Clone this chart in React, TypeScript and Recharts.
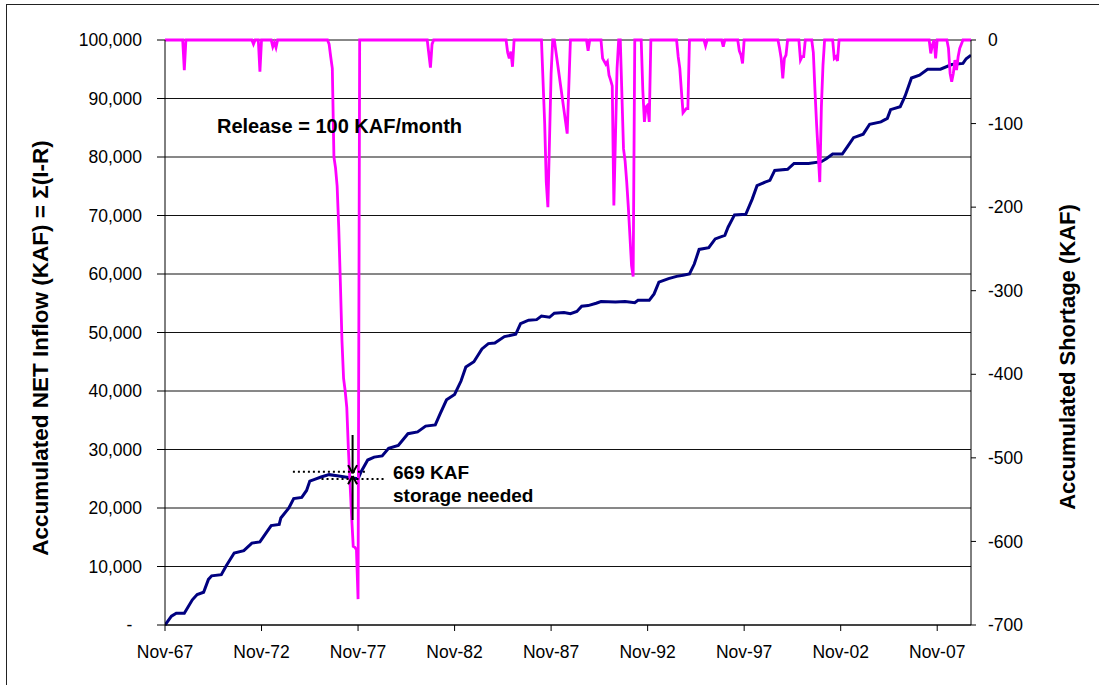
import React from "react";
import { LineChart, Line, XAxis, YAxis, CartesianGrid, ReferenceLine } from "recharts";

// Month index 0 = Nov-67
const inflowMonths = [
  0, 4, 7, 12, 17, 20, 24, 27, 29, 35, 38, 43, 49, 54, 59, 62, 66, 71, 72, 77,
  80, 85, 88, 90, 93, 97, 102, 107, 114, 119, 120, 122, 126, 130, 135, 139, 145, 151, 157, 162,
  168, 171, 175, 180, 184, 187, 192, 197, 201, 205, 211, 218, 221, 226, 231, 234, 239, 242, 248, 252,
  256, 259, 263, 268, 271, 280, 286, 292, 294, 301, 304, 307, 313, 318, 322, 326, 329, 332, 338, 342,
  348, 350, 354, 361, 365, 368, 373, 376, 379, 387, 391, 400, 408, 411, 415, 421, 424, 428, 434, 438,
  445, 449, 451, 457, 460, 464, 469, 474, 482, 489, 496, 498, 501,
];
const inflowValues = [
  0, 1500, 2000, 2000, 4300, 5200, 5600, 7800, 8400, 8600, 10100, 12300, 12700, 14000, 14200, 15400, 17000, 17200, 18300, 20000,
  21600, 21800, 23000, 24600, 24900, 25300, 25700, 25500, 25200, 25050, 25000, 26250, 28200, 28700, 28900, 30200, 30700, 32700, 33000, 34000,
  34200, 36100, 38500, 39400, 41700, 44100, 45000, 47200, 48100, 48200, 49300, 49700, 51500, 52100, 52200, 52800, 52600, 53300, 53400, 53200,
  53600, 54500, 54600, 55000, 55300, 55200, 55300, 55100, 55500, 55500, 56600, 58600, 59200, 59600, 59800, 60000, 61700, 64200, 64500, 66000,
  66600, 68000, 70100, 70200, 72800, 75100, 75700, 76000, 77700, 77900, 78900, 78900, 79200, 79700, 80500, 80500, 81700, 83300, 83900, 85600,
  86000, 86600, 88100, 88600, 90400, 93500, 94000, 95000, 95000, 95800, 96000, 96800, 97400,
];

const shortageMonths = [
  0, 11, 12, 13, 54, 55, 56, 58, 59, 60, 66, 67, 68, 69, 70,
  101, 102, 103, 104, 105, 106, 107, 108, 109, 110, 111, 112, 113, 114, 115, 116, 117, 118, 119, 120, 121,
  163, 165, 166, 167, 212, 213, 214, 215, 216, 217,
  234, 236, 237, 238, 239, 240, 241, 242, 250, 252,
  262, 263, 264, 271, 272, 274, 275, 276, 277, 278, 279, 281, 282, 283, 285, 286, 287, 288, 289, 290, 291, 292,
  296, 297, 298, 299, 300, 301, 302, 318, 319, 320, 321, 322, 324, 325, 326,
  335, 336, 337, 346, 347, 348, 356, 357, 358, 359, 360,
  381, 382, 383, 384, 385, 386, 387, 394, 395, 396, 397, 398,
  402, 403, 404, 405, 406, 407, 408, 409, 410, 415, 416, 417, 418, 419,
  475, 476, 477, 478, 479, 480, 486, 487, 488, 489, 490, 491, 492, 493, 494, 495, 496, 501,
];
const shortageValues = [
  0, 0, -36, 0, 0, -5, 0, 0, -38, 0, 0, -8, -3, -9, 0,
  0, -5, -20, -34, -140, -153, -175, -225, -290, -360, -405, -420, -440, -490, -530, -570, -606, -607, -610, -669, 0,
  0, -33, -5, 0, 0, -15, -22, -14, -32, 0,
  0, -100, -170, -200, -120, -40, 0, 0, -112, 0,
  0, -13, 0, 0, -22, -29, -26, -42, -48, -55, -198, -34, 0, 0, -130, -145, -170, -200, -235, -270, -283, 0,
  0, -60, -98, -80, -78, -98, 0, 0, -20, -34, -61, -87, -82, -82, 0,
  0, -7, 0, 0, -8, 0, 0, -13, -18, -28, 0,
  0, -10, -22, -46, -22, -18, 0, 0, -24, -20, -20, 0,
  0, -15, -60, -100, -135, -170, -80, -30, 0, 0, -22, -20, -25, 0,
  0, -16, -6, 0, -22, 0, 0, -10, -40, -50, -40, -24, -36, -20, -10, -5, 0, 0,
];

const xTickMonths = [0, 60, 120, 180, 240, 300, 360, 420, 480];
const xTickLabels = ["Nov-67", "Nov-72", "Nov-77", "Nov-82", "Nov-87", "Nov-92", "Nov-97", "Nov-02", "Nov-07"];
const leftTicks = [0, 10000, 20000, 30000, 40000, 50000, 60000, 70000, 80000, 90000, 100000];
const rightTicks = [-700, -600, -500, -400, -300, -200, -100, 0];

const inflowData = inflowMonths.map((m, i) => ({ m, v: inflowValues[i] }));
const shortageData = shortageMonths.map((m, i) => ({ m, s: shortageValues[i] }));

const FONT = "'Liberation Sans', Arial, sans-serif";
const W = 1099;
const H = 685;

const fmtLeft = (v: number) => (v === 0 ? "-\u00A0\u00A0" : v.toLocaleString("en-US"));
const fmtX = (v: number) => {
  const i = xTickMonths.indexOf(v);
  return i >= 0 ? xTickLabels[i] : "";
};

// annotation geometry in data units
const arrowMonth = 116.6;
const headDx = 2.8;
const headDy = 1400;

export default function App() {
  return (
    <div style={{ position: "absolute", left: 0, top: 0, width: W, height: H, background: "#fff", fontFamily: FONT }}>
      <LineChart width={W} height={H} margin={{ top: 40, right: 0, bottom: 0, left: 0 }}>
        <CartesianGrid yAxisId="left" vertical={false} stroke="#111" strokeWidth={1} horizontalValues={leftTicks} />
        <XAxis
          type="number"
          dataKey="m"
          domain={[0, 501]}
          ticks={xTickMonths}
          tickFormatter={fmtX}
          allowDataOverflow
          height={60}
          tickSize={6}
          tickMargin={15}
          stroke="#000"
          tick={{ fill: "#000", fontSize: 17.5, fontFamily: FONT }}
        />
        <YAxis
          yAxisId="left"
          orientation="left"
          domain={[0, 100000]}
          ticks={leftTicks}
          tickFormatter={fmtLeft}
          width={165}
          tickSize={8}
          tickMargin={15}
          stroke="#000"
          tick={{ fill: "#000", fontSize: 17.5, fontFamily: FONT }}
        />
        <YAxis
          yAxisId="right"
          orientation="right"
          domain={[-700, 0]}
          ticks={rightTicks}
          width={128}
          tickSize={5}
          tickMargin={12}
          stroke="#000"
          tick={{ fill: "#000", fontSize: 17.5, fontFamily: FONT }}
        />
        <Line
          yAxisId="left"
          data={inflowData}
          dataKey="v"
          type="linear"
          stroke="#000080"
          strokeWidth={3}
          dot={false}
          isAnimationActive={false}
        />
        <Line
          yAxisId="right"
          data={shortageData}
          dataKey="s"
          type="linear"
          stroke="#FF00FF"
          strokeWidth={2.8}
          dot={false}
          isAnimationActive={false}
        />
        {/* dotted guide lines */}
        <ReferenceLine yAxisId="left" segment={[{ x: 79.5, y: 26200 }, { x: 126, y: 26200 }]} stroke="#000" strokeWidth={2} strokeDasharray="2 3" />
        <ReferenceLine yAxisId="left" segment={[{ x: 97.3, y: 24960 }, { x: 136.6, y: 24960 }]} stroke="#000" strokeWidth={2} strokeDasharray="2 3" />
        {/* down arrow */}
        <ReferenceLine yAxisId="left" segment={[{ x: arrowMonth, y: 32480 }, { x: arrowMonth, y: 25930 }]} stroke="#000" strokeWidth={2} />
        <ReferenceLine yAxisId="left" segment={[{ x: arrowMonth - headDx, y: 25930 + headDy }, { x: arrowMonth, y: 25930 }]} stroke="#000" strokeWidth={2} />
        <ReferenceLine yAxisId="left" segment={[{ x: arrowMonth + headDx, y: 25930 + headDy }, { x: arrowMonth, y: 25930 }]} stroke="#000" strokeWidth={2} />
        {/* up arrow */}
        <ReferenceLine yAxisId="left" segment={[{ x: arrowMonth, y: 17950 }, { x: arrowMonth, y: 25470 }]} stroke="#000" strokeWidth={2} />
        <ReferenceLine yAxisId="left" segment={[{ x: arrowMonth - headDx, y: 25470 - headDy }, { x: arrowMonth, y: 25470 }]} stroke="#000" strokeWidth={2} />
        <ReferenceLine yAxisId="left" segment={[{ x: arrowMonth + headDx, y: 25470 - headDy }, { x: arrowMonth, y: 25470 }]} stroke="#000" strokeWidth={2} />
      </LineChart>
      <svg
        width={W}
        height={H}
        style={{ position: "absolute", left: 0, top: 0, pointerEvents: "none" }}
      >
        <rect x={6.5} y={4.5} width={1200} height={1000} fill="none" stroke="#222" strokeWidth={1} />
        <text
          x={40}
          y={348}
          transform="rotate(-90 40 348)"
          textAnchor="middle"
          dominantBaseline="central"
          fontFamily={FONT}
          fontWeight="bold"
          fontSize={22.5}
          fill="#000"
        >
          Accumulated NET Inflow (KAF) = Σ(I-R)
        </text>
        <text
          x={1067}
          y={357}
          transform="rotate(-90 1067 357)"
          textAnchor="middle"
          dominantBaseline="central"
          fontFamily={FONT}
          fontWeight="bold"
          fontSize={22}
          fill="#000"
        >
          Accumulated Shortage (KAF)
        </text>
        <text x={217} y={133} fontFamily={FONT} fontWeight="bold" fontSize={20} fill="#000">
          Release = 100 KAF/month
        </text>
        <text x={393} y={479} fontFamily={FONT} fontWeight="bold" fontSize={19} fill="#000">
          669 KAF
        </text>
        <text x={393} y={502} fontFamily={FONT} fontWeight="bold" fontSize={19} fill="#000">
          storage needed
        </text>
      </svg>
    </div>
  );
}
